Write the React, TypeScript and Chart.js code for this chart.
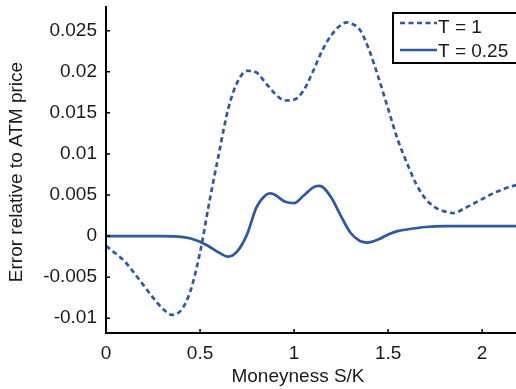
import React, { useEffect, useRef } from "react";
import { Chart, registerables } from "chart.js";

Chart.register(...registerables);

const SERIES_LABELS = ["T = 1", "T = 0.25"];

const X_T1 = [0.0, 0.05, 0.1, 0.15, 0.2, 0.25, 0.3, 0.35, 0.4, 0.45, 0.5, 0.55, 0.6, 0.65, 0.7, 0.75, 0.8, 0.85, 0.9, 0.95, 1.0, 1.05, 1.1, 1.15, 1.2, 1.25, 1.28, 1.3, 1.35, 1.4, 1.45, 1.5, 1.55, 1.6, 1.65, 1.7, 1.75, 1.8, 1.85, 1.9, 1.95, 2.0, 2.05, 2.1, 2.15, 2.18];
const Y_T1 = [-0.0012, -0.0021, -0.0031, -0.0045, -0.006, -0.0075, -0.0088, -0.0096, -0.009, -0.0066, -0.002, 0.0042, 0.01, 0.0155, 0.0188, 0.0201, 0.0199, 0.0186, 0.0173, 0.0165, 0.0166, 0.0177, 0.02, 0.0226, 0.0245, 0.0257, 0.026, 0.0259, 0.0251, 0.0226, 0.0192, 0.0155, 0.0118, 0.0089, 0.0063, 0.0045, 0.0035, 0.003, 0.0028, 0.0033, 0.0039, 0.0045, 0.0051, 0.0056, 0.006, 0.0062];

const X_T025 = [0.0, 0.1, 0.2, 0.3, 0.35, 0.4, 0.45, 0.5, 0.55, 0.6, 0.65, 0.7, 0.75, 0.8, 0.85, 0.875, 0.9, 0.95, 1.0, 1.05, 1.1, 1.13, 1.15, 1.2, 1.25, 1.3, 1.35, 1.39, 1.45, 1.5, 1.55, 1.6, 1.7, 1.8, 1.9, 2.0, 2.18];
const Y_T025 = [0, 0, 0, 0, -0.00003, -0.0001, -0.0003, -0.0007, -0.0013, -0.002, -0.0025, -0.0018, 0.0002, 0.0035, 0.005, 0.0052, 0.005, 0.0042, 0.004, 0.0049, 0.0059, 0.0061, 0.006, 0.0046, 0.0024, 0.0004, -0.0006, -0.0008, -0.0004, 0.0002, 0.0006, 0.0008, 0.0011, 0.0012, 0.0012, 0.0012, 0.0012];

const X_TICKS = [0, 0.5, 1, 1.5, 2];
const Y_TICKS = [0.025, 0.02, 0.015, 0.01, 0.005, 0, -0.005, -0.01];
const X_TITLE = "Moneyness S/K";
const Y_TITLE = "Error relative to ATM price";

const LINE_COLOR = "#2C59A6";
const FONT_FAMILY = '"Liberation Sans", Arial, sans-serif';
const FONT = '19px ' + FONT_FAMILY;

const decorPlugin = {
  id: "decor",
  afterDraw(chart: any) {
    const { ctx, chartArea, scales } = chart;
    const { left, right, top, bottom } = chartArea;
    ctx.save();
    ctx.strokeStyle = "#000";
    ctx.lineWidth = 2;
    ctx.beginPath();
    ctx.moveTo(left, top);
    ctx.lineTo(left, bottom);
    ctx.lineTo(right + 2, bottom);
    ctx.stroke();
    ctx.lineWidth = 1.5;
    ctx.beginPath();
    X_TICKS.forEach((v) => {
      const px = scales.x.getPixelForValue(v);
      ctx.moveTo(px, bottom);
      ctx.lineTo(px, bottom - 4);
    });
    Y_TICKS.forEach((v) => {
      const py = scales.y.getPixelForValue(v);
      ctx.moveTo(left, py);
      ctx.lineTo(left + 4, py);
    });
    ctx.stroke();

    ctx.fillStyle = "#1a1a1a";
    ctx.font = FONT;
    ctx.textAlign = "center";
    ctx.textBaseline = "middle";
    ctx.fillText(X_TITLE, 298, 377);
    ctx.save();
    ctx.translate(17, 172);
    ctx.rotate(-Math.PI / 2);
    ctx.fillText(Y_TITLE, 0, 0);
    ctx.restore();

    // legend
    ctx.fillStyle = "#fff";
    ctx.fillRect(393, 13, 130, 50);
    ctx.strokeStyle = "#000";
    ctx.lineWidth = 2;
    ctx.strokeRect(393, 13, 130, 50);
    ctx.strokeStyle = LINE_COLOR;
    ctx.lineWidth = 2.7;
    ctx.setLineDash([5, 3.5]);
    ctx.beginPath();
    ctx.moveTo(400, 23);
    ctx.lineTo(437, 23);
    ctx.stroke();
    ctx.setLineDash([]);
    ctx.beginPath();
    ctx.moveTo(400, 50);
    ctx.lineTo(437, 50);
    ctx.stroke();
    ctx.fillStyle = "#1a1a1a";
    ctx.textAlign = "left";
    ctx.fillText(SERIES_LABELS[0], 438, 28);
    ctx.fillText(SERIES_LABELS[1], 438, 52);
    ctx.restore();
  },
};

export default function App() {
  const ref = useRef<HTMLCanvasElement | null>(null);
  useEffect(() => {
    if (!ref.current) return;
    const chart = new Chart(ref.current, {
      type: "line",
      data: {
        datasets: [
          {
            label: SERIES_LABELS[0],
            data: X_T1.map((x, i) => ({ x, y: Y_T1[i] })),
            borderColor: LINE_COLOR,
            borderWidth: 2.7,
            borderDash: [5, 3.5],
            pointRadius: 0,
            cubicInterpolationMode: "monotone",
            fill: false,
          },
          {
            label: SERIES_LABELS[1],
            data: X_T025.map((x, i) => ({ x, y: Y_T025[i] })),
            borderColor: LINE_COLOR,
            borderWidth: 2.7,
            pointRadius: 0,
            cubicInterpolationMode: "monotone",
            fill: false,
          },
        ],
      },
      options: {
        responsive: false,
        animation: false,
        layout: { padding: { top: 6, right: 0, bottom: 0, left: 0 } },
        plugins: { legend: { display: false }, tooltip: { enabled: false } },
        scales: {
          x: {
            type: "linear",
            min: 0,
            max: 2.18,
            grid: { display: false, drawTicks: false },
            border: { display: false },
            afterBuildTicks: (s: any) => {
              s.ticks = X_TICKS.map((v) => ({ value: v }));
            },
            afterFit: (s: any) => {
              s.height = 56;
              s.paddingLeft = 0;
              s.paddingRight = 0;
            },
            ticks: {
              padding: 9,
              color: "#1a1a1a",
              font: { family: FONT_FAMILY, size: 19 },
              maxRotation: 0,
              callback: (v: any) => String(v),
            },
          },
          y: {
            type: "linear",
            min: -0.0118,
            max: 0.028,
            grid: { display: false, drawTicks: false },
            border: { display: false },
            afterBuildTicks: (s: any) => {
              s.ticks = Y_TICKS.map((v) => ({ value: v }));
            },
            afterFit: (s: any) => {
              s.width = 106;
              s.paddingTop = 0;
              s.paddingBottom = 0;
            },
            ticks: {
              padding: 9,
              color: "#1a1a1a",
              font: { family: FONT_FAMILY, size: 19 },
              callback: (v: any) => String(v),
            },
          },
        },
      },
      plugins: [decorPlugin],
    });
    return () => chart.destroy();
  }, []);
  return (
    <div style={{ position: "absolute", left: 0, top: 0 }}>
      <canvas ref={ref} width={516} height={389} style={{ display: "block" }} />
    </div>
  );
}
